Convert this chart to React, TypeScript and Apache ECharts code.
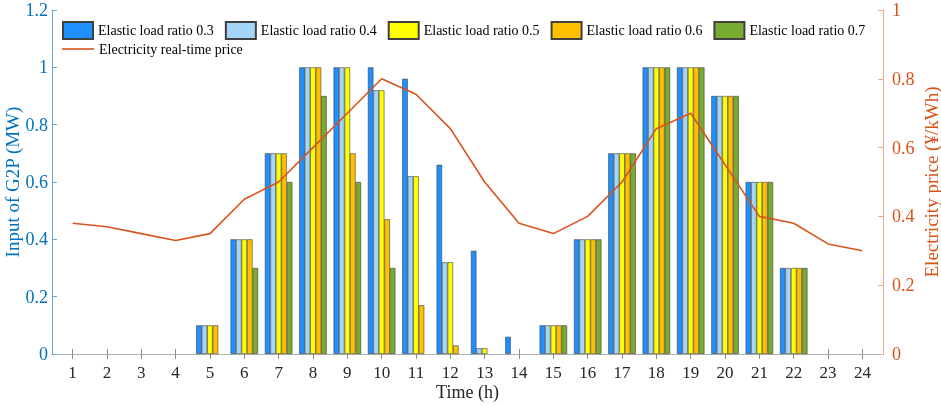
import React, { useEffect, useRef } from "react";
import * as echarts from "echarts";

const hours = [1, 2, 3, 4, 5, 6, 7, 8, 9, 10, 11, 12, 13, 14, 15, 16, 17, 18, 19, 20, 21, 22, 23, 24];
const leftTicks = [0, 0.2, 0.4, 0.6, 0.8, 1, 1.2];
const rightTicks = [0, 0.2, 0.4, 0.6, 0.8, 1];

const seriesNames = [
  "Elastic load ratio 0.3",
  "Elastic load ratio 0.4",
  "Elastic load ratio 0.5",
  "Elastic load ratio 0.6",
  "Elastic load ratio 0.7",
];
const priceName = "Electricity real-time price";

const ratio03 = [0, 0, 0, 0, 0.1, 0.4, 0.7, 1, 1, 1, 0.96, 0.66, 0.36, 0.06, 0.1, 0.4, 0.7, 1, 1, 0.9, 0.6, 0.3, 0, 0];
const ratio04 = [0, 0, 0, 0, 0.1, 0.4, 0.7, 1, 1, 0.92, 0.62, 0.32, 0.02, 0, 0.1, 0.4, 0.7, 1, 1, 0.9, 0.6, 0.3, 0, 0];
const ratio05 = [0, 0, 0, 0, 0.1, 0.4, 0.7, 1, 1, 0.92, 0.62, 0.32, 0.02, 0, 0.1, 0.4, 0.7, 1, 1, 0.9, 0.6, 0.3, 0, 0];
const ratio06 = [0, 0, 0, 0, 0.1, 0.4, 0.7, 1, 0.7, 0.47, 0.17, 0.03, 0, 0, 0.1, 0.4, 0.7, 1, 1, 0.9, 0.6, 0.3, 0, 0];
const ratio07 = [0, 0, 0, 0, 0, 0.3, 0.6, 0.9, 0.6, 0.3, 0, 0, 0, 0, 0.1, 0.4, 0.7, 1, 1, 0.9, 0.6, 0.3, 0, 0];
const price = [0.38, 0.37, 0.35, 0.33, 0.35, 0.45, 0.5, 0.6, 0.7, 0.8, 0.755, 0.655, 0.5, 0.38, 0.35, 0.4, 0.5, 0.655, 0.7, 0.55, 0.4, 0.38, 0.32, 0.3];

const barColors = ["#1E90FF", "#A6D6F7", "#FFFF00", "#FFC000", "#77AC30"];
const priceColor = "#D9531E";
const leftColor = "#0072BD";
const rightColor = "#D95319";
const FONT = "Liberation Serif";

export default function App() {
  const ref = useRef<HTMLDivElement>(null);
  useEffect(() => {
    if (!ref.current) return;
    const chart = echarts.init(ref.current, undefined, { renderer: "svg" });
    const barData = [ratio03, ratio04, ratio05, ratio06, ratio07];
    const barSeries = barData.map((arr, i) => ({
      name: seriesNames[i],
      type: "bar",
      xAxisIndex: 0,
      yAxisIndex: 0,
      barWidth: 5.5,
      barGap: "0%",
      itemStyle: { color: barColors[i], borderColor: "#404040", borderWidth: 0.6 },
      data: hours.map((h, k) => (arr[k] === 0 ? null : [h, arr[k]])).filter((d) => d !== null),
      z: 2,
    }));
    const xCommon = {
      type: "value",
      min: 0.4,
      max: 24.6,
      splitLine: { show: false },
      axisLine: { show: true, lineStyle: { color: "#8c8c8c", width: 1 } },
      axisTick: { show: true, inside: true, length: 5, customValues: hours, lineStyle: { color: "#8c8c8c" } },
    };
    chart.setOption({
      animation: false,
      grid: { left: 52, right: 58, top: 10, bottom: 52, containLabel: false, outerBoundsMode: "none" },
      legend: [
        {
          data: seriesNames,
          left: 62,
          top: 21,
          padding: 0,
          itemWidth: 30,
          itemHeight: 17,
          itemGap: 11,
          icon: "rect",
          textStyle: { fontFamily: FONT, fontSize: 14, color: "#000" },
        },
        {
          data: [{ name: priceName, icon: "path://M0,0 L40,0 L40,2 L0,2 Z" }],
          left: 62,
          top: 42,
          padding: 0,
          itemWidth: 32,
          itemHeight: 17,
          textStyle: { fontFamily: FONT, fontSize: 14, color: "#000" },
        },
      ],
      xAxis: [
        {
          ...xCommon,
          position: "bottom",
          name: "Time (h)",
          nameLocation: "middle",
          nameGap: 29,
          nameMoveOverlap: false,
          nameTextStyle: { fontFamily: FONT, fontSize: 18, color: "#262626" },
          axisLabel: { show: true, customValues: hours, margin: 10, fontFamily: FONT, fontSize: 17, color: "#262626" },
        },
        {
          ...xCommon,
          position: "top",
          axisLine: { show: true, lineStyle: { color: "#b0b0b0", width: 1 } },
          axisLabel: { show: false },
        },
      ],
      yAxis: [
        {
          type: "value",
          position: "left",
          min: 0,
          max: 1.2,
          interval: 0.2,
          name: "Input of G2P (MW)",
          nameLocation: "middle",
          nameGap: 30,
          nameMoveOverlap: false,
          nameTextStyle: { fontFamily: FONT, fontSize: 19, color: leftColor },
          splitLine: { show: false },
          axisLine: { show: true, lineStyle: { color: "#6aa8d8", width: 1 } },
          axisTick: { show: true, inside: true, length: 5, lineStyle: { color: "#6aa8d8" } },
          axisLabel: { margin: 4, fontFamily: FONT, fontSize: 18, color: leftColor, customValues: leftTicks },
        },
        {
          type: "value",
          position: "right",
          min: 0,
          max: 1,
          interval: 0.2,
          name: "Electricity price (¥/kWh)",
          nameLocation: "middle",
          nameGap: 39,
          nameMoveOverlap: false,
          nameTextStyle: { fontFamily: FONT, fontSize: 19, color: rightColor },
          splitLine: { show: false },
          axisLine: { show: true, lineStyle: { color: "#f0a888", width: 1 } },
          axisTick: { show: true, inside: true, length: 5, lineStyle: { color: "#f0a888" } },
          axisLabel: { margin: 9, fontFamily: FONT, fontSize: 18, color: rightColor, customValues: rightTicks },
        },
      ],
      series: [
        ...barSeries,
        {
          name: priceName,
          type: "line",
          xAxisIndex: 0,
          yAxisIndex: 1,
          symbol: "none",
          lineStyle: { color: priceColor, width: 1.6 },
          itemStyle: { color: priceColor },
          data: hours.map((h, k) => [h, price[k]]),
          z: 5,
        },
      ],
    });
    return () => chart.dispose();
  }, []);
  return <div ref={ref} style={{ position: "fixed", left: 0, top: 0, width: 941, height: 406 }} />;
}
